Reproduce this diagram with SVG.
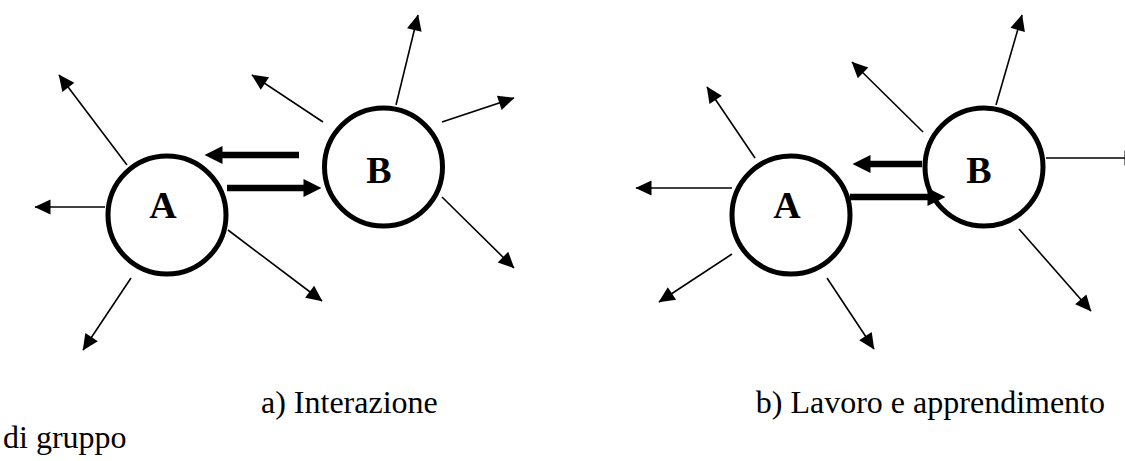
<svg xmlns="http://www.w3.org/2000/svg" width="1125" height="461" viewBox="0 0 1125 461">
  <style>
    .node { fill: #ffffff; stroke: #000000; stroke-width: 5; }
    .lbl { font-family: "Liberation Serif", "Times New Roman", serif; font-weight: bold; font-size: 38px; fill: #000000; text-anchor: middle; }
    .cap { font-family: "Liberation Serif", "Times New Roman", serif; font-size: 32px; fill: #000000; }
    .thin { stroke: #000000; stroke-width: 1.6; fill: none; marker-end: url(#ah); }
    .thick { stroke: #000000; stroke-width: 6.5; fill: none; marker-end: url(#ahb); }
  </style>
  <defs>
    <marker id="ah" markerUnits="userSpaceOnUse" markerWidth="16" markerHeight="15" refX="15.5" refY="7.5" orient="auto" overflow="visible">
      <path d="M0,0 L16,7.5 L0,15 Z" fill="#000000"/>
    </marker>
    <marker id="ahb" markerUnits="userSpaceOnUse" markerWidth="18" markerHeight="18" refX="0.5" refY="9" orient="auto" overflow="visible">
      <path d="M0,0 L18,9 L0,18 Z" fill="#000000"/>
    </marker>
  </defs>

  <g id="nodeA1">
    <circle class="node" cx="167" cy="215" r="59"/>
    <text class="lbl" x="163" y="218">A</text>
  </g>
  <g id="nodeB1">
    <circle class="node" cx="383.5" cy="167" r="59"/>
    <text class="lbl" x="379" y="183">B</text>
  </g>
  <g id="nodeA2">
    <circle class="node" cx="791" cy="215" r="59"/>
    <text class="lbl" x="787" y="218">A</text>
  </g>
  <g id="nodeB2">
    <circle class="node" cx="984" cy="167" r="59"/>
    <text class="lbl" x="979" y="183">B</text>
  </g>

  <g id="connectors">
    <line class="thick" x1="299" y1="155" x2="222" y2="155"/>
    <line class="thick" x1="227" y1="188" x2="304" y2="188"/>
    <line class="thin" x1="127" y1="165" x2="59" y2="75"/>
    <line class="thin" x1="105" y1="207" x2="35" y2="207"/>
    <line class="thin" x1="228" y1="230" x2="322" y2="301"/>
    <line class="thin" x1="131" y1="278" x2="83" y2="350"/>
    <line class="thin" x1="323" y1="122" x2="252" y2="75"/>
    <line class="thin" x1="396" y1="105" x2="418" y2="15"/>
    <line class="thin" x1="442" y1="122" x2="514" y2="98"/>
    <line class="thin" x1="442" y1="197" x2="514" y2="268"/>

    <line class="thick" x1="922" y1="164" x2="870" y2="164"/>
    <line class="thick" x1="850" y1="197" x2="928" y2="197"/>
    <line class="thin" x1="755" y1="158" x2="707" y2="87"/>
    <line class="thin" x1="732" y1="188" x2="636" y2="188"/>
    <line class="thin" x1="732" y1="254" x2="659" y2="302"/>
    <line class="thin" x1="827" y1="278" x2="874" y2="349"/>
    <line class="thin" x1="923" y1="132" x2="852" y2="62"/>
    <line class="thin" x1="996" y1="105" x2="1022" y2="15"/>
    <line class="thin" x1="1046" y1="158" x2="1140" y2="158"/>
    <line class="thin" x1="1019" y1="229" x2="1091" y2="311"/>
  </g>

  <text class="cap" x="261" y="413">a) Interazione</text>
  <text class="cap" x="1105" y="413" text-anchor="end">b) Lavoro e apprendimento</text>
  <text class="cap" x="3" y="448">di gruppo</text>
</svg>
